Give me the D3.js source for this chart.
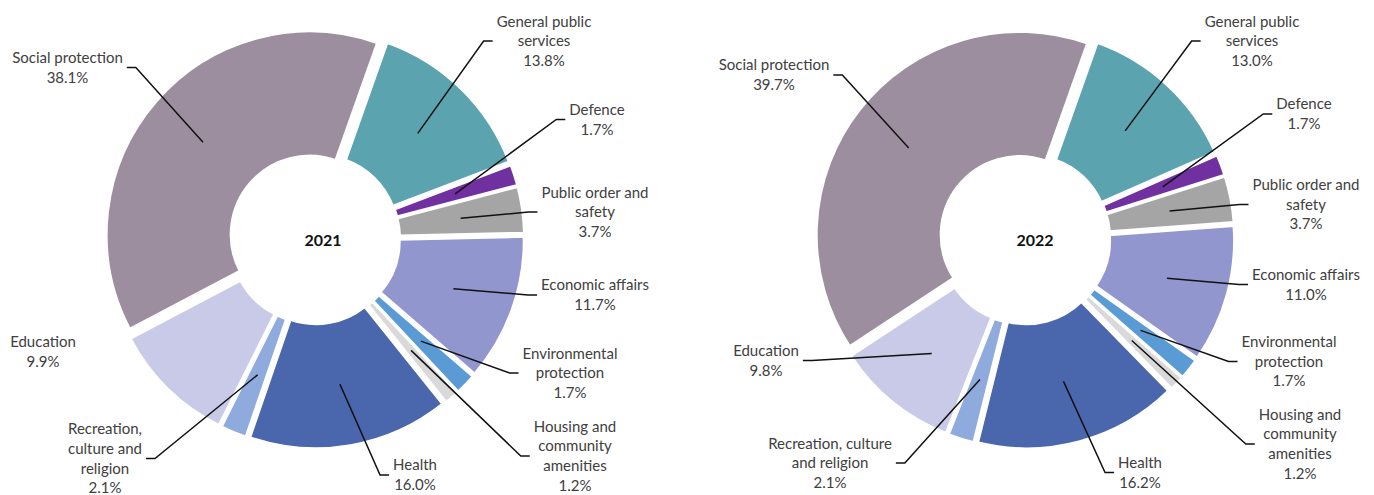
<!DOCTYPE html>
<html>
<head>
<meta charset="utf-8">
<script src="https://cdn.jsdelivr.net/npm/d3@7"></script>
<style>
  body { margin: 0; background: #fff; }
  svg { display: block; }
  text { font-family: Lato, "Open Sans", sans-serif; }
</style>
</head>
<body>
<svg id="chart" width="1374" height="495"></svg>
<script>
// Functions of government, share of total expenditure (%)
const categories = [
  "General public services", "Defence", "Public order and safety", "Economic affairs",
  "Environmental protection", "Housing and community amenities", "Health",
  "Recreation, culture and religion", "Education", "Social protection"
];
const years = ["2021", "2022"];
const shares2021 = [13.8, 1.7, 3.7, 11.7, 1.7, 1.2, 16.0, 2.1, 9.9, 38.1];
const shares2022 = [13.0, 1.7, 3.7, 11.0, 1.7, 1.2, 16.2, 2.1, 9.8, 39.7];

// Wrapped label text for each doughnut
const labelLines2021 = [
  ["General public", "services"], ["Defence"], ["Public order and", "safety"], ["Economic affairs"],
  ["Environmental", "protection"], ["Housing and", "community", "amenities"], ["Health"],
  ["Recreation,", "culture and", "religion"], ["Education"], ["Social protection"]
];
const labelLines2022 = [
  ["General public", "services"], ["Defence"], ["Public order and", "safety"], ["Economic affairs"],
  ["Environmental", "protection"], ["Housing and", "community", "amenities"], ["Health"],
  ["Recreation, culture", "and religion"], ["Education"], ["Social protection"]
];

// Styling and layout
const colors = ["#5BA4AF", "#7030A0", "#A5A5A5", "#9196CE", "#5B9BD5",
                "#D9D9D9", "#4A66AC", "#8FAADC", "#C9CAE7", "#9C8E9E"];

const layout2021 = {
  center: [314.6, 238.8], yearPos: [323, 240],
  labelPos: [[544, 41], [597, 119.5], [595, 212], [595, 295], [570, 373],
             [575, 456], [415, 475], [105, 458.5], [43, 351.5], [67.5, 67.5]],
  leader: [true, true, true, true, true, true, true, true, false, true]
};
const layout2022 = {
  center: [1024.8, 239], yearPos: [1035, 240],
  labelPos: [[1252, 41], [1304, 114], [1306, 204.5], [1306, 284.5], [1289, 361.5],
             [1300, 444], [1140, 472.5], [830, 463], [766, 360.5], [774, 75]],
  leader: [true, true, true, true, true, true, true, true, true, true]
};

const startDeg = 19.5;
const innerR = 78.5, outerR = 203.5, explode = 6.5;
const fontSize = 15, lineH = 19.6;
const fmt = d3.format(".1f");

const svg = d3.select("#chart");

const pie = d3.pie().sort(null).value(d => d)
  .startAngle(startDeg * Math.PI / 180)
  .endAngle(startDeg * Math.PI / 180 + 2 * Math.PI);
const arc = d3.arc().innerRadius(innerR).outerRadius(outerR);

function drawDoughnut(values, lines, lay, year) {
  const g = svg.append("g");
  const [cx, cy] = lay.center;
  const arcs = pie(values);

  // each slice pushed outward along its bisector
  const slices = arcs.map(d => {
    const mid = (d.startAngle + d.endAngle) / 2;
    const ox = explode * Math.sin(mid), oy = -explode * Math.cos(mid);
    const c = arc.centroid(d);
    return { d, ox, oy, anchor: [cx + ox + c[0], cy + oy + c[1]] };
  });

  g.selectAll("path.slice").data(slices).join("path")
    .attr("class", "slice")
    .attr("transform", s => `translate(${cx + s.ox},${cy + s.oy})`)
    .attr("d", s => arc(s.d))
    .attr("fill", (s, i) => colors[i])
    .attr("stroke", "#fff")
    .attr("stroke-width", 3)
    .attr("stroke-linejoin", "round");

  // Data labels
  const labels = g.selectAll("text.lbl").data(slices).join("text")
    .attr("class", "lbl")
    .attr("text-anchor", "middle")
    .attr("font-size", fontSize)
    .attr("fill", "#404040");

  labels.each(function (s, i) {
    const all = lines[i].concat([fmt(values[i]) + "%"]);
    const [lx, ly] = lay.labelPos[i];
    const n = all.length;
    d3.select(this).selectAll("tspan").data(all).join("tspan")
      .attr("x", lx)
      .attr("y", (t, k) => ly + (k - (n - 1) / 2) * lineH)
      .attr("dy", "0.35em")
      .text(t => t);
  });

  // Leader lines: from slice centroid to the near side of the label, with a short level elbow
  const leaderG = g.append("g");
  labels.each(function (s, i) {
    if (!lay.leader[i]) return;
    let w = 0;
    d3.select(this).selectAll("tspan").each(function () {
      w = Math.max(w, this.getComputedTextLength());
    });
    const [lx, ly] = lay.labelPos[i];
    const [ax, ay] = s.anchor;
    const side = lx > ax ? -1 : 1;
    const ex = lx + side * (w / 2 + 4);
    const bx = ex + side * 9;
    leaderG.append("path")
      .attr("d", d3.line()([[ax, ay], [bx, ly], [ex, ly]]))
      .attr("fill", "none")
      .attr("stroke", "#111")
      .attr("stroke-width", 1.5);
  });

  g.append("text")
    .attr("x", lay.yearPos[0]).attr("y", lay.yearPos[1])
    .attr("dy", "0.35em")
    .attr("text-anchor", "middle")
    .attr("font-size", 16).attr("font-weight", "bold")
    .attr("fill", "#111")
    .text(year);
}

drawDoughnut(shares2021, labelLines2021, layout2021, years[0]);
drawDoughnut(shares2022, labelLines2022, layout2022, years[1]);
</script>
</body>
</html>
